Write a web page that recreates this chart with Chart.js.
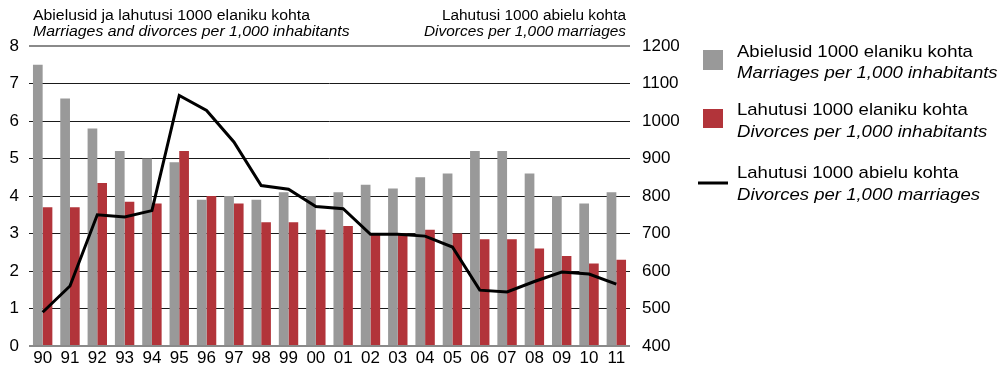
<!DOCTYPE html>
<html>
<head>
<meta charset="utf-8">
<script src="https://cdn.jsdelivr.net/npm/chart.js@4/dist/chart.umd.min.js"></script>
<style>
  html, body { margin: 0; padding: 0; background: #fff; }
  #wrap { width: 1001px; height: 369px; position: relative; }
</style>
</head>
<body>
<div id="wrap"><canvas id="chartAbielud"></canvas></div>
<script>
const aastad = ['90','91','92','93','94','95','96','97','98','99','00','01','02','03','04','05','06','07','08','09','10','11']
const abielud = [7.5, 6.6, 5.8, 5.2, 5.0, 4.9, 3.9, 4.0, 3.9, 4.1, 4.0, 4.1, 4.3, 4.2, 4.5, 4.6, 5.2, 5.2, 4.6, 4.0, 3.8, 4.1]
const lahutused = [3.7, 3.7, 4.35, 3.85, 3.8, 5.2, 4.0, 3.8, 3.3, 3.3, 3.1, 3.2, 3.0, 3.0, 3.1, 3.0, 2.85, 2.85, 2.6, 2.4, 2.2, 2.3]
const lahutusedAbielu = [490, 560, 750, 744, 761, 1068, 1028, 944, 828, 818, 772, 766, 698, 698, 693, 664, 549, 544, 572, 597, 592, 565]

const vasakTeljed = [0, 1, 2, 3, 4, 5, 6, 7, 8]
const paremTeljed = [400, 500, 600, 700, 800, 900, 1000, 1100, 1200]

const HALL = '#999999'
const PUNANE = '#b2343a'
const FONT = '"Liberation Sans", Arial, sans-serif'

// pealkirjad ja legend joonistatakse otse lõuendile (veidi laiemaks venitatud kirjaga)
const tekstid = {
  id: 'tekstid',
  afterDraw(chart) {
    const ctx = chart.ctx
    const kiri = (t, x, y, align, font, sx) => {
      ctx.save()
      ctx.translate(x, y)
      ctx.scale(sx, 1)
      ctx.font = font
      ctx.textAlign = align
      ctx.textBaseline = 'middle'
      ctx.fillStyle = '#000'
      ctx.fillText(t, 0, 0)
      ctx.restore()
    }

    kiri('Abielusid ja lahutusi 1000 elaniku kohta', 33, 16, 'left', '14px ' + FONT, 1.13)
    kiri('Marriages and divorces per 1,000 inhabitants', 33, 32, 'left', 'italic 14px ' + FONT, 1.13)
    kiri('Lahutusi 1000 abielu kohta', 626, 16, 'right', '14px ' + FONT, 1.1)
    kiri('Divorces per 1,000 marriages', 626, 32, 'right', 'italic 14px ' + FONT, 1.1)

    // legend
    ctx.save()
    ctx.fillStyle = HALL
    ctx.fillRect(703, 50, 20, 20)
    ctx.fillStyle = PUNANE
    ctx.fillRect(703, 109, 20, 19)
    ctx.strokeStyle = '#000'
    ctx.lineWidth = 3
    ctx.beginPath()
    ctx.moveTo(698, 183)
    ctx.lineTo(728, 183)
    ctx.stroke()
    ctx.restore()

    const rida = (t, y, italic) => kiri(t, 737, y, 'left', (italic ? 'italic ' : '') + '17px ' + FONT, 1.09)
    rida('Abielusid 1000 elaniku kohta', 52, false)
    rida('Marriages per 1,000 inhabitants', 73, true)
    rida('Lahutusi 1000 elaniku kohta', 110, false)
    rida('Divorces per 1,000 inhabitants', 132, true)
    rida('Lahutusi 1000 abielu kohta', 173, false)
    rida('Divorces per 1,000 marriages', 195, true)
  }
}

const aarisJoon = ctx => ctx.tick && (ctx.tick.value === 8 || ctx.tick.value === 0)

new Chart(document.getElementById('chartAbielud'), {
  type: 'bar',
  data: {
    labels: aastad,
    datasets: [
      {
        type: 'line',
        label: 'Lahutusi 1000 abielu kohta',
        data: lahutusedAbielu,
        yAxisID: 'y2',
        borderColor: '#000',
        borderWidth: 3,
        pointRadius: 0,
        tension: 0,
        order: 0
      },
      {
        label: 'Abielusid 1000 elaniku kohta',
        data: abielud,
        backgroundColor: HALL,
        yAxisID: 'y',
        order: 1
      },
      {
        label: 'Lahutusi 1000 elaniku kohta',
        data: lahutused,
        backgroundColor: PUNANE,
        yAxisID: 'y',
        order: 2
      }
    ]
  },
  options: {
    responsive: true,
    maintainAspectRatio: false,
    animation: false,
    layout: { padding: { top: 46, right: 301, left: 0, bottom: 0 } },
    datasets: {
      bar: { categoryPercentage: 0.71, barPercentage: 1.0 }
    },
    plugins: {
      legend: { display: false },
      tooltip: { enabled: false }
    },
    scales: {
      x: {
        grid: { display: false, drawTicks: false },
        border: { display: false },
        ticks: { color: '#000', font: { family: FONT, size: 17 }, padding: 2, maxRotation: 0, autoSkip: false },
        afterFit(scale) { scale.height = 23 }
      },
      y: {
        position: 'left',
        min: vasakTeljed[0],
        max: vasakTeljed[vasakTeljed.length - 1],
        afterBuildTicks(scale) { scale.ticks = vasakTeljed.map(v => ({ value: v })) },
        grid: {
          drawTicks: false,
          color: ctx => aarisJoon(ctx) ? '#8a8a8a' : '#1a1a1a',
          lineWidth: ctx => aarisJoon(ctx) ? 2 : 1
        },
        border: { display: false },
        ticks: { color: '#000', font: { family: FONT, size: 17 }, padding: 10 },
        afterFit(scale) { scale.width = 29 }
      },
      y2: {
        position: 'right',
        min: paremTeljed[0],
        max: paremTeljed[paremTeljed.length - 1],
        afterBuildTicks(scale) { scale.ticks = paremTeljed.map(v => ({ value: v })) },
        grid: { display: false, drawTicks: false },
        border: { display: false },
        ticks: {
          color: '#000',
          font: { family: FONT, size: 17 },
          padding: 12,
          callback: v => String(v)
        },
        afterFit(scale) { scale.width = 70 }
      }
    }
  },
  plugins: [tekstid]
})
</script>
</body>
</html>
